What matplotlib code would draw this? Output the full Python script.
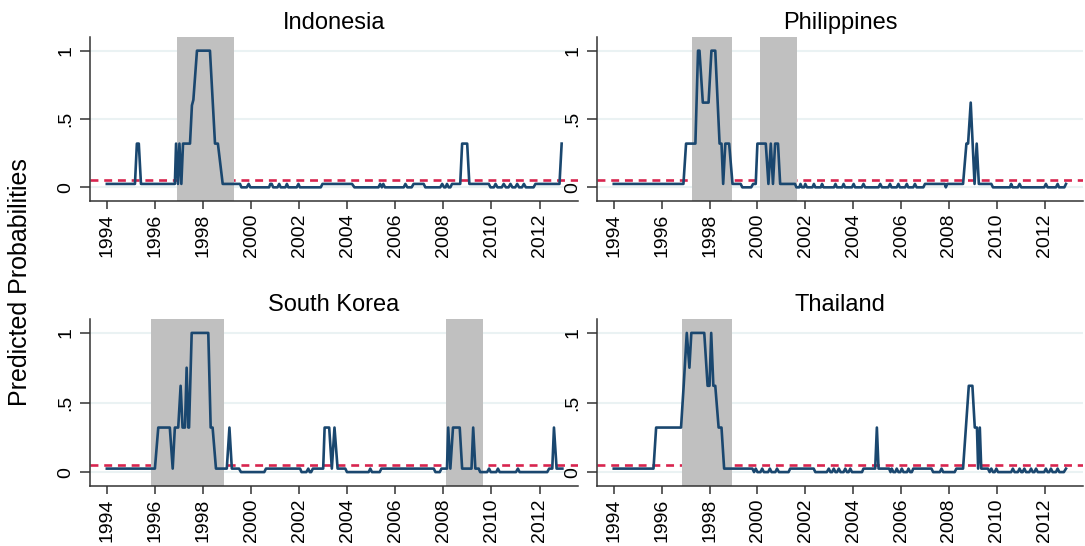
import matplotlib.pyplot as plt

plt.rcParams['font.family'] = ['Liberation Sans', 'DejaVu Sans']

# predicted crisis probabilities (monthly model output), as (year, prob) vertices
indonesia = [
    (1994.0, .025), (1995.17, .025), (1995.25, .32), (1995.33, .32), (1995.42, .025),
    (1996.83, .025), (1996.88, .32), (1996.96, .025), (1997.02, .32), (1997.1, .025),
    (1997.17, .32), (1997.46, .32), (1997.54, .6), (1997.6, .64), (1997.75, 1),
    (1998.29, 1), (1998.5, .32), (1998.62, .32), (1998.82, .025),
    (1999.54, .025), (1999.6, 0), (1999.82, 0), (1999.9, .025), (1999.97, 0),
    (2000.75, 0), (2000.8, .025), (2000.86, .025), (2000.92, 0), (2001.1, 0),
    (2001.17, .025), (2001.23, 0), (2001.43, 0), (2001.49, .025), (2001.55, 0),
    (2001.9, 0), (2001.97, .025), (2002.03, 0), (2002.9, 0), (2002.97, .025),
    (2004.2, .025), (2004.3, 0), (2005.3, 0), (2005.37, .025), (2005.44, 0),
    (2005.5, .025), (2005.57, 0), (2006.35, 0), (2006.42, .025), (2006.5, 0),
    (2006.68, 0), (2006.76, .025), (2007.18, .025), (2007.25, 0), (2007.87, 0),
    (2007.95, .025), (2008.03, 0), (2008.09, 0), (2008.15, .025), (2008.22, 0),
    (2008.29, 0), (2008.36, .025), (2008.7, .025), (2008.78, .32), (2008.99, .32),
    (2009.08, .025), (2009.89, .025), (2009.96, 0), (2010.1, 0), (2010.17, .025),
    (2010.25, 0), (2010.43, 0), (2010.51, .025), (2010.6, 0), (2010.71, 0),
    (2010.79, .025), (2010.87, 0), (2010.99, 0), (2011.07, .025), (2011.15, 0),
    (2011.27, 0), (2011.35, .025), (2011.43, 0), (2011.75, 0), (2011.83, .025),
    (2012.83, .025), (2012.92, .32),
]

philippines = [
    (1994.0, .025), (1996.91, .025), (1997.02, .32), (1997.41, .32), (1997.52, 1),
    (1997.58, 1), (1997.72, .62), (1997.96, .62), (1998.08, 1), (1998.24, 1),
    (1998.42, .32), (1998.5, .32), (1998.57, .025), (1998.66, .32), (1998.82, .32),
    (1998.96, .025), (1999.3, .025), (1999.37, 0), (1999.74, 0), (1999.82, .025),
    (1999.93, .025), (2000.0, .32), (2000.35, .32), (2000.46, .025), (2000.56, .32),
    (2000.65, .025), (2000.74, .32), (2000.86, .32), (2000.95, .025),
    (2001.57, .025), (2001.63, 0), (2001.75, 0), (2001.8, .025), (2001.86, 0),
    (2001.95, 0), (2002.0, .025), (2002.07, 0), (2002.3, 0), (2002.36, .025),
    (2002.42, 0), (2002.65, 0), (2002.7, .025), (2002.76, 0), (2003.2, 0),
    (2003.26, .025), (2003.32, 0), (2003.54, 0), (2003.6, .025), (2003.66, 0),
    (2003.95, 0), (2004.02, .025), (2004.08, 0), (2004.36, 0), (2004.43, .025),
    (2004.5, 0), (2005.06, 0), (2005.13, .025), (2005.2, 0), (2005.47, 0),
    (2005.54, .025), (2005.6, 0), (2005.82, 0), (2005.89, .025), (2005.95, 0),
    (2006.17, 0), (2006.24, .025), (2006.3, 0), (2006.51, 0), (2006.58, .025),
    (2006.65, 0), (2006.93, 0), (2007.0, .025), (2007.83, .025), (2007.87, 0),
    (2007.93, .025), (2008.59, .025), (2008.73, .32), (2008.8, .32), (2008.91, .62),
    (2009.07, .025), (2009.16, .32), (2009.25, .025), (2009.77, .025), (2009.84, 0),
    (2010.55, 0), (2010.6, .025), (2010.66, 0), (2010.88, 0), (2010.95, .025),
    (2011.02, 0), (2011.98, 0), (2012.05, .025), (2012.12, 0), (2012.47, 0),
    (2012.54, .025), (2012.6, 0), (2012.82, 0), (2012.89, .025),
]

south_korea = [
    (1994.0, .025), (1996.0, .025), (1996.14, .32), (1996.62, .32), (1996.74, .025),
    (1996.83, .32), (1996.97, .32), (1997.07, .62), (1997.15, .32), (1997.25, .32),
    (1997.32, .75), (1997.39, .32), (1997.42, .32), (1997.53, 1), (1998.22, 1),
    (1998.32, .32), (1998.4, .32), (1998.54, .025), (1998.99, .025), (1999.1, .32),
    (1999.2, .025), (1999.5, .025), (1999.58, 0), (2000.55, 0), (2000.62, .025),
    (2002.04, .025), (2002.1, 0), (2002.3, 0), (2002.38, .025), (2002.44, 0),
    (2002.5, 0), (2002.57, .025), (2003.0, .025), (2003.06, .32), (2003.25, .32),
    (2003.36, .025), (2003.47, .32), (2003.6, .025), (2003.92, .025), (2003.99, 0),
    (2004.89, 0), (2004.96, .025), (2005.03, 0), (2005.35, 0), (2005.42, .025),
    (2007.6, .025), (2007.67, 0), (2007.85, 0), (2007.92, .025), (2008.15, .025),
    (2008.2, .32), (2008.29, .025), (2008.4, .32), (2008.68, .32), (2008.78, .025),
    (2009.17, .025), (2009.24, .32), (2009.33, .025), (2009.47, .025), (2009.53, 0),
    (2009.82, 0), (2009.9, .025), (2009.97, 0), (2010.2, 0), (2010.27, .025),
    (2010.34, 0), (2011.02, 0), (2011.1, .025), (2011.17, 0), (2012.32, 0),
    (2012.4, .025), (2012.53, .025), (2012.6, .32), (2012.71, .025), (2012.95, .025),
]

thailand = [
    (1994.0, .025), (1995.66, .025), (1995.77, .32), (1996.81, .32), (1996.92, .62),
    (1997.05, 1), (1997.16, .75), (1997.24, 1), (1997.78, 1), (1997.92, .62),
    (1998.0, .62), (1998.07, 1), (1998.16, .62), (1998.24, .62), (1998.38, .32),
    (1998.5, .32), (1998.61, .025), (1999.79, .025), (1999.86, 0), (1999.93, .025),
    (2000.0, 0), (2000.13, 0), (2000.2, .025), (2000.27, 0), (2000.45, 0),
    (2000.52, .025), (2000.59, 0), (2000.75, 0), (2000.82, .025), (2000.9, 0),
    (2001.3, 0), (2001.37, .025), (2002.35, .025), (2002.42, 0), (2002.9, 0),
    (2002.98, .025), (2003.05, 0), (2003.12, 0), (2003.19, .025), (2003.26, 0),
    (2003.33, 0), (2003.4, .025), (2003.47, 0), (2003.6, 0), (2003.67, .025),
    (2003.74, 0), (2003.81, 0), (2003.88, .025), (2003.95, 0), (2004.37, 0),
    (2004.43, .025), (2004.92, .025), (2004.99, .32), (2005.06, .025), (2005.5, .025),
    (2005.56, 0), (2005.61, .025), (2005.68, 0), (2005.76, 0), (2005.82, .025),
    (2005.89, 0), (2005.97, 0), (2006.03, .025), (2006.1, 0), (2006.25, 0),
    (2006.31, .025), (2006.38, 0), (2006.45, 0), (2006.51, .025), (2007.27, .025),
    (2007.34, 0), (2007.62, 0), (2007.69, .025), (2007.76, 0), (2008.24, 0),
    (2008.31, .025), (2008.59, .025), (2008.83, .62), (2008.98, .62), (2009.08, .32),
    (2009.17, .32), (2009.22, .025), (2009.29, .32), (2009.35, .025), (2009.63, .025),
    (2009.7, 0), (2009.77, .025), (2009.84, 0), (2009.91, 0), (2009.98, .025),
    (2010.05, 0), (2010.6, 0), (2010.67, .025), (2010.74, 0), (2010.88, 0),
    (2010.95, .025), (2011.02, 0), (2011.08, 0), (2011.15, .025), (2011.22, 0),
    (2011.36, 0), (2011.43, .025), (2011.5, 0), (2011.57, 0), (2011.64, .025),
    (2011.71, 0), (2011.98, 0), (2012.05, .025), (2012.12, 0), (2012.19, 0),
    (2012.26, .025), (2012.33, 0), (2012.47, 0), (2012.54, .025), (2012.61, 0),
    (2012.8, 0), (2012.89, .025),
]

# crisis episodes (start, end)
crises = {
    'Indonesia': [(1996.9, 1999.29)],
    'Philippines': [(1997.26, 1998.93), (2000.11, 2001.64)],
    'South Korea': [(1995.83, 1998.89), (2008.11, 2009.64)],
    'Thailand': [(1996.85, 1998.92)],
}

threshold = 0.05
years = list(range(1994, 2013, 2))

panels = [
    ('Indonesia', indonesia, [90, 201, 488, 164]),
    ('Philippines', philippines, [597, 201, 486, 164]),
    ('South Korea', south_korea, [90, 486, 488, 167]),
    ('Thailand', thailand, [597, 486, 486, 167]),
]

W, H = 1085, 546
fig = plt.figure(figsize=(W / 100, H / 100), dpi=100)

for name, series, (x0, ybot, w, h) in panels:
    ax = fig.add_axes([x0 / W, (H - ybot) / H, w / W, h / H])
    t = [p[0] for p in series]
    prob = [p[1] for p in series]

    for y in [0, .5, 1]:
        ax.axhline(y, color='#eaf2f3', lw=1.5, zorder=0)
    ax.axhline(threshold, color='#d8254f', lw=1.9, ls=(0, (3, 2.2)), zorder=1)
    for a, b in crises[name]:
        ax.axvspan(a, b, color='#c0c0c0', lw=0, zorder=2)
    ax.plot(t, prob, color='#1a476f', lw=1.9, zorder=3)

    ax.set_xlim(1993.3, 2013.6)
    ax.set_ylim(-0.1, 1.1)
    ax.set_title(name, fontsize=17, pad=6)

    ax.set_yticks([0, .5, 1], ['0', '.5', '1'], rotation=90, va='center')
    ax.set_xticks(years, [str(y) for y in years], rotation=90)
    ax.tick_params(axis='y', length=7, width=1.1, pad=4, labelsize=14, color='#333333')
    ax.tick_params(axis='x', length=6, width=1.1, pad=3, labelsize=14, color='#333333')
    for s in ['top', 'right']:
        ax.spines[s].set_visible(False)
    for s in ['left', 'bottom']:
        ax.spines[s].set_color('#333333')
        ax.spines[s].set_linewidth(1.1)

fig.text(20 / W, 1 - 282 / H, 'Predicted Probabilities', rotation=90,
         fontsize=18, ha='center', va='center')

fig.savefig('out.png', dpi=100, facecolor='white')
